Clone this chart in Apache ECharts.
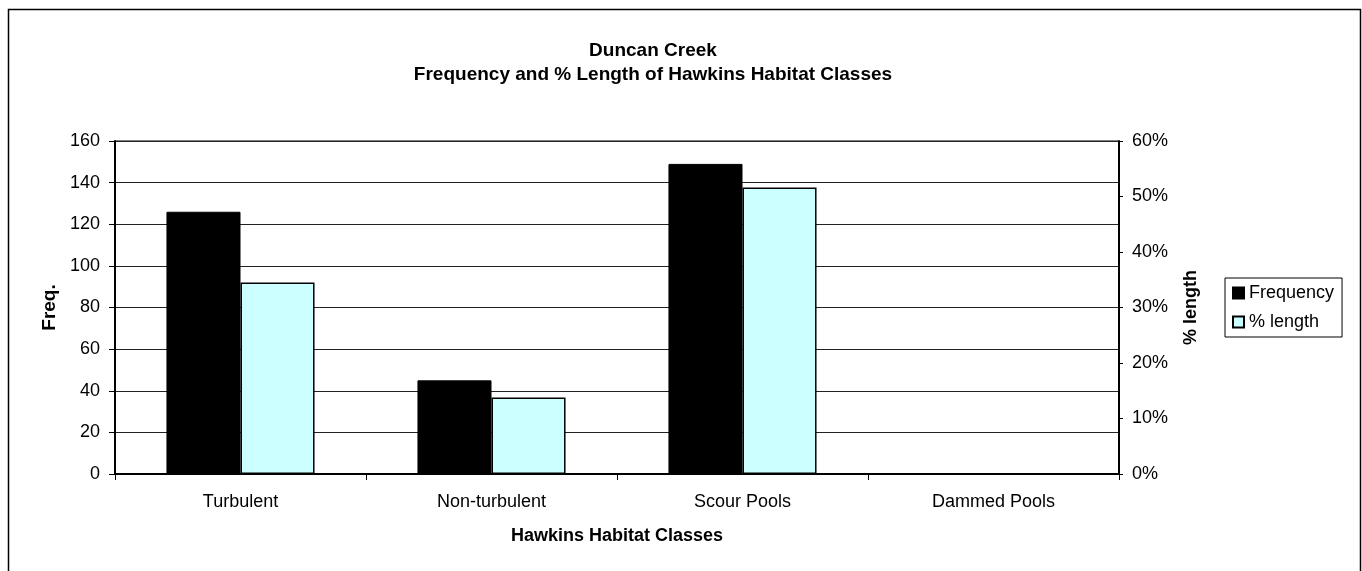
<!DOCTYPE html>
<html>
<head>
<meta charset="utf-8">
<script src="https://cdn.jsdelivr.net/npm/echarts@6/dist/echarts.min.js"></script>
<style>html,body{margin:0;padding:0;background:#fff;}#c{width:1362px;height:571px;}</style>
</head>
<body>
<div id="c"></div>
<script>
const categories = ['Turbulent', 'Non-turbulent', 'Scour Pools', 'Dammed Pools'];
const frequency = [126, 45, 149, 0];
const pctLength = [34.5, 13.8, 51.6, 0];
const freqTicks = { min: 0, max: 160, interval: 20 };
const pctTicks = { min: 0, max: 60, interval: 10 };

const FONT = 'Liberation Sans, Arial, sans-serif';
const chart = echarts.init(document.getElementById('c'), null, { renderer: 'canvas' });
chart.setOption({
  backgroundColor: '#fff',
  animation: false,
  title: {
    text: 'Duncan Creek\nFrequency and % Length of Hawkins Habitat Classes',
    left: 648, top: 34, textAlign: 'center',
    textStyle: { fontFamily: FONT, fontSize: 19, fontWeight: 'bold', color: '#000', lineHeight: 24 }
  },
  graphic: [{
    type: 'rect', left: 6, top: 7, silent: true,
    shape: { width: 1352, height: 620 },
    style: { fill: 'none', stroke: '#000', lineWidth: 1.5 }
  }],
  legend: {
    orient: 'vertical', left: 1225, top: 278,
    padding: [6, 8, 6, 7], itemGap: 11,
    borderColor: '#000', borderWidth: 1,
    icon: 'rect', itemWidth: 11, itemHeight: 11,
    textStyle: { fontFamily: FONT, fontSize: 18, color: '#000', padding: [0, 0, 0, 0] },
    data: ['Frequency', '% length']
  },
  grid: { left: 115, right: 243, top: 141, bottom: 97, show: true, borderColor: '#000', borderWidth: 1 },
  xAxis: {
    type: 'category', data: categories,
    name: 'Hawkins Habitat Classes', nameLocation: 'middle', nameGap: 53,
    nameTextStyle: { fontFamily: FONT, fontSize: 18, fontWeight: 'bold', color: '#000', verticalAlign: 'top' },
    axisLine: { lineStyle: { color: '#000', width: 2 } },
    axisTick: { show: true, length: 6, lineStyle: { color: '#000' } },
    axisLabel: { fontFamily: FONT, fontSize: 18, color: '#000', margin: 19 }
  },
  yAxis: [{
    type: 'value', min: freqTicks.min, max: freqTicks.max, interval: freqTicks.interval,
    name: 'Freq.', nameLocation: 'middle', nameGap: 56, nameRotate: 90,
    nameTextStyle: { fontFamily: FONT, fontSize: 19, fontWeight: 'bold', color: '#000' },
    axisLine: { show: true, lineStyle: { color: '#000', width: 2 } },
    axisTick: { show: true, length: 6, lineStyle: { color: '#000' } },
    axisLabel: { fontFamily: FONT, fontSize: 18, color: '#000', margin: 15 },
    splitLine: { show: true, lineStyle: { color: '#222', width: 1 } }
  }, {
    type: 'value', min: pctTicks.min, max: pctTicks.max, interval: pctTicks.interval,
    position: 'right',
    name: '% length', nameLocation: 'middle', nameGap: 63, nameRotate: 90,
    nameTextStyle: { fontFamily: FONT, fontSize: 18, fontWeight: 'bold', color: '#000' },
    axisLine: { show: true, lineStyle: { color: '#000', width: 2 } },
    axisTick: { show: true, length: 4, lineStyle: { color: '#000' } },
    axisLabel: { fontFamily: FONT, fontSize: 18, color: '#000', margin: 13, formatter: '{value}%' },
    splitLine: { show: false }
  }],
  series: [{
    name: 'Frequency', type: 'bar', yAxisIndex: 0, data: frequency,
    barGap: '0%', barCategoryGap: '41%',
    itemStyle: { color: '#000', borderColor: '#000', borderWidth: 1 }
  }, {
    name: '% length', type: 'bar', yAxisIndex: 1, data: pctLength,
    barGap: '0%', barCategoryGap: '41%',
    itemStyle: { color: '#CCFFFF', borderColor: '#000', borderWidth: 1.5 }
  }]
});
</script>
</body>
</html>
